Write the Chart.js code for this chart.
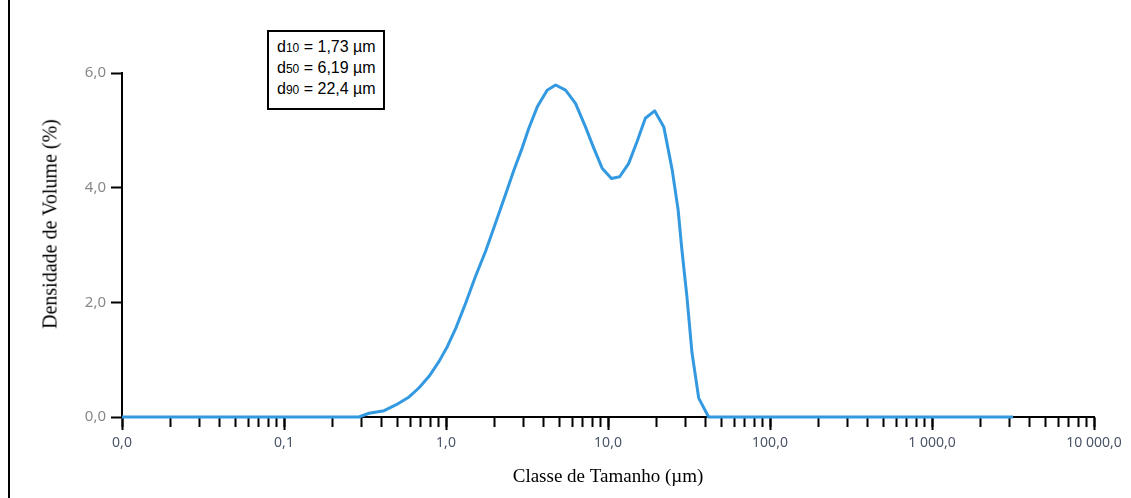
<!DOCTYPE html>
<html>
<head>
<meta charset="utf-8">
<script src="https://cdn.jsdelivr.net/npm/chart.js@4"></script>
<style>
  html, body { margin: 0; padding: 0; background: #fff; }
  #wrap { position: relative; width: 1131px; height: 498px; }
  #chart { position: absolute; left: 0; top: 0; }
  #edge { position: absolute; left: 8px; top: 0; width: 2px; height: 498px; background: #000; }
  #yTitle {
    position: absolute; left: 50px; top: 224px;
    transform: translate(-50%, -50%) rotate(-90deg);
    font: 20px "Liberation Serif", serif; color: #000; white-space: nowrap;
  }
  #stats {
    position: absolute; left: 267px; top: 30px; width: 118px; height: 80px;
    box-sizing: border-box; border: 2px solid #000; background: #fff;
    padding: 5px 0 0 8px; font: 16px "Liberation Sans", sans-serif; line-height: 20px; color: #000;
  }
  #stats .sub { font-size: 12px; }
</style>
</head>
<body>
<div id="wrap">
  <canvas id="chart" width="1131" height="498"></canvas>
  <div id="edge"></div>
  <div id="yTitle">Densidade de Volume (%)</div>
  <div id="stats"></div>
</div>
<script>
// tamanho das partículas (µm) e densidade de volume (%)
const sizes = [0.01, 0.29, 0.335, 0.415, 0.49, 0.592, 0.682, 0.786, 0.906, 1.02, 1.15, 1.32, 1.52, 1.76,
  2.02, 2.33, 2.62, 2.95, 3.25, 3.66, 4.21, 4.75, 5.47, 6.30, 7.26, 8.17, 9.20, 10.5, 11.8, 13.4,
  15.1, 17.0, 19.4, 22.1, 24.9, 27.1, 28.6, 30.7, 33.0, 36.3, 41.8, 3162];
const volume = [0, 0, 0.065, 0.11, 0.21, 0.35, 0.51, 0.71, 0.97, 1.23, 1.55, 1.98, 2.45, 2.90,
  3.38, 3.88, 4.30, 4.69, 5.04, 5.41, 5.70, 5.79, 5.70, 5.47, 5.06, 4.69, 4.34, 4.16, 4.19, 4.42,
  4.80, 5.21, 5.34, 5.06, 4.31, 3.61, 2.91, 2.10, 1.12, 0.33, 0, 0];

const xDecades = [0.01, 0.1, 1, 10, 100, 1000, 10000];
const xTickLabels = ['0,0', '0,1', '1,0', '10,0', '100,0', '1 000,0', '10 000,0'];
const yTicks = [0, 2, 4, 6];
const yTickLabels = ['0,0', '2,0', '4,0', '6,0'];

const statNames = ['10', '50', '90'];
const statValues = ['1,73', '6,19', '22,4'];

// caixa com d10 / d50 / d90
document.getElementById('stats').innerHTML = statNames
  .map((n, i) => `<div>d<span class="sub">${n}</span> = ${statValues[i]} µm</div>`)
  .join('');

function decadeIndex(v) {
  return xDecades.findIndex(d => Math.abs(v / d - 1) < 1e-6);
}
// só marcas 1..9 x 10^n (tira o 1,5 que o Chart.js coloca)
function wholeStep(v) {
  const e = Math.floor(Math.log10(v) + 1e-9);
  const m = v / Math.pow(10, e);
  return Math.abs(m - Math.round(m)) < 1e-6;
}

const ctx = document.getElementById('chart').getContext('2d');
new Chart(ctx, {
  type: 'line',
  data: {
    datasets: [{
      data: sizes.map((s, i) => ({ x: s, y: volume[i] })),
      borderColor: '#3399e0',
      borderWidth: 3,
      borderJoinStyle: 'round',
      pointRadius: 0,
      tension: 0,
      fill: false,
      clip: false,
      xAxisID: 'x',
      yAxisID: 'y'
    }]
  },
  options: {
    responsive: false,
    animation: false,
    devicePixelRatio: 1,
    layout: { padding: { top: 73, right: 37, bottom: 0, left: 0 } },
    plugins: { legend: { display: false }, tooltip: { enabled: false } },
    scales: {
      x: {
        type: 'logarithmic',
        position: 'bottom',
        min: 0.01,
        max: 10000,
        afterBuildTicks: s => { s.ticks = s.ticks.filter(t => wholeStep(t.value)); },
        afterFit: s => { s.height = 81; },
        border: { display: true, color: '#000', width: 2 },
        grid: { drawOnChartArea: false, drawTicks: true, tickLength: 10, tickColor: '#000', tickWidth: 2 },
        ticks: {
          autoSkip: false,
          maxRotation: 0,
          padding: 8,
          color: '#4a5568',
          font: { family: 'Noto Sans', size: 14 },
          callback: v => {
            const i = decadeIndex(v);
            return i >= 0 ? xTickLabels[i] : '';
          }
        },
        title: {
          display: true,
          text: 'Classe de Tamanho (µm)',
          color: '#000',
          font: { family: 'Liberation Serif', size: 19 },
          padding: { top: 0, bottom: 10 }
        }
      },
      // marcas maiores nas décadas
      xMajor: {
        type: 'logarithmic',
        axis: 'x',
        position: { y: 0 },
        min: 0.01,
        max: 10000,
        afterBuildTicks: s => { s.ticks = s.ticks.filter(t => decadeIndex(t.value) >= 0); },
        border: { display: false },
        grid: { drawOnChartArea: false, drawTicks: true, tickLength: 13, tickColor: '#000', tickWidth: 2 },
        ticks: { display: false }
      },
      y: {
        min: 0,
        max: 6,
        afterBuildTicks: s => { s.ticks = yTicks.map(v => ({ value: v })); },
        afterFit: s => { s.width = 122; },
        border: { display: true, color: '#000', width: 2 },
        grid: { drawOnChartArea: false, drawTicks: true, tickLength: 11, tickColor: '#000', tickWidth: 2 },
        ticks: {
          padding: 5,
          color: '#888',
          font: { family: 'Noto Sans', size: 15 },
          callback: v => yTickLabels[yTicks.indexOf(v)]
        }
      }
    }
  }
});
</script>
</body>
</html>
